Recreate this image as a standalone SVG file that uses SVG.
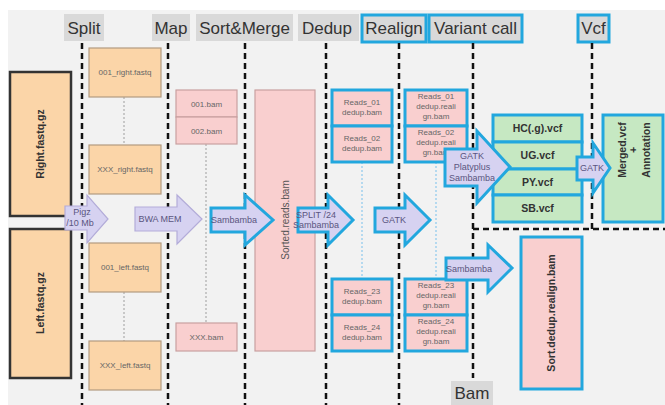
<svg xmlns="http://www.w3.org/2000/svg" width="665" height="405" viewBox="0 0 665 405">
<style>
text{font-family:"Liberation Sans",Arial,sans-serif;}
.hdr{fill:#d9d9d9;}
.hb{fill:#d9d9d9;stroke:#22a7de;stroke-width:3;}
.ht{font-size:17px;fill:#333;text-anchor:middle;}
.dash{stroke:#111;stroke-width:2.5;stroke-dasharray:6,4;fill:none;}
.big{fill:#fbd5a8;stroke:#333;stroke-width:2.5;}
.or{fill:#fbd5a8;stroke:#b39b80;stroke-width:1.2;}
.pk{fill:#f9cfcf;stroke:#c9a0a0;stroke-width:1.2;}
.pkb{fill:#f9cfcf;stroke:#22a7de;stroke-width:3;}
.gr{fill:#c6e8c2;stroke:#22a7de;stroke-width:3;}
.ar{fill:#d6d2f1;stroke:#b3acd9;stroke-width:1.2;}
.arb{fill:#d6d2f1;stroke:#22a7de;stroke-width:3;}
.st{font-size:8px;fill:#666;text-anchor:middle;}
.at{font-size:9px;fill:#5a5580;text-anchor:middle;}
.gt{font-size:10.5px;font-weight:bold;fill:#333;text-anchor:middle;}
.dot{stroke:#c8c8c8;stroke-width:2;stroke-dasharray:2,2;fill:none;}
.dotb{stroke:#b5d9ef;stroke-width:2;stroke-dasharray:2,2;fill:none;}
</style>
<rect x="0" y="0" width="665" height="405" fill="#fff"/>
<rect x="8" y="10" width="657" height="395" fill="#f2f2f2"/>

<g id="headers">
<rect class="hdr" x="64" y="14" width="40" height="27"/><text class="ht" x="84" y="34">Split</text>
<rect class="hdr" x="152" y="14" width="38" height="27"/><text class="ht" x="171" y="34">Map</text>
<rect class="hdr" x="196" y="14" width="97" height="27"/><text class="ht" x="244.5" y="34">Sort&amp;Merge</text>
<rect class="hdr" x="298" y="14" width="61" height="27"/><text class="ht" x="327" y="34">Dedup</text>
<rect class="hb" x="362" y="15" width="64" height="27"/><text class="ht" x="394" y="34">Realign</text>
<rect class="hb" x="429" y="15" width="93" height="27"/><text class="ht" x="475.5" y="34">Variant call</text>
<rect class="hb" x="578" y="15" width="31" height="27"/><text class="ht" x="593.5" y="34">Vcf</text>
<rect class="hdr" x="451" y="381" width="42" height="24"/><text class="ht" x="472" y="399">Bam</text>
</g>

<g id="connectors">
<line class="dash" x1="82" y1="43" x2="82" y2="405"/>
<line class="dash" x1="168" y1="43" x2="168" y2="405"/>
<line class="dash" x1="245" y1="43" x2="245" y2="405"/>
<line class="dash" x1="326" y1="43" x2="326" y2="405"/>
<line class="dash" x1="399" y1="43" x2="399" y2="405"/>
<line class="dash" x1="473" y1="43" x2="473" y2="378"/>
<line class="dash" x1="592" y1="43" x2="592" y2="229"/>
<line class="dash" x1="473" y1="229" x2="665" y2="229"/>
<line class="dot" x1="124" y1="97" x2="124" y2="145"/>
<line class="dot" x1="124" y1="292" x2="124" y2="341"/>
<line class="dot" x1="206" y1="144" x2="206" y2="323"/>
<line class="dotb" x1="362" y1="162" x2="362" y2="279"/>
<line class="dotb" x1="436" y1="162" x2="436" y2="279"/>
</g>

<g id="right-fastq"><rect class="big" x="10" y="72" width="61" height="144"/>
<text class="gt" transform="translate(44,144) rotate(-90)" font-size="11">Right.fastq.gz</text></g>
<g id="left-fastq"><rect class="big" x="10" y="229" width="61" height="149"/>
<text class="gt" transform="translate(44,303) rotate(-90)" font-size="11">Left.fastq.gz</text></g>

<g id="s001r"><rect class="or" x="89" y="48" width="72" height="49"/><text class="st" x="125" y="75">001_right.fastq</text></g>
<g id="sxxxr"><rect class="or" x="89" y="145" width="72" height="49"/><text class="st" x="125" y="172">XXX_right.fastq</text></g>
<g id="s001l"><rect class="or" x="89" y="243" width="72" height="49"/><text class="st" x="125" y="270">001_left.fastq</text></g>
<g id="sxxxl"><rect class="or" x="89" y="341" width="72" height="49"/><text class="st" x="125" y="368">XXX_left.fastq</text></g>

<g id="bam001"><rect class="pk" x="176" y="90" width="61" height="27"/><text class="st" x="206.5" y="107">001.bam</text></g>
<g id="bam002"><rect class="pk" x="176" y="117" width="61" height="27"/><text class="st" x="206.5" y="134">002.bam</text></g>
<g id="bamxxx"><rect class="pk" x="176" y="323" width="61" height="28"/><text class="st" x="206.5" y="340">XXX.bam</text></g>

<g id="sorted"><rect class="pk" x="255" y="90" width="60" height="261"/>
<text transform="translate(289,220) rotate(-90)" font-size="10" fill="#555" text-anchor="middle">Sorted.reads.bam</text></g>

<g id="d01"><rect class="pkb" x="332" y="90" width="60" height="36"/><text class="st" x="362" y="105">Reads_01</text><text class="st" x="362" y="115">dedup.bam</text></g>
<g id="d02"><rect class="pkb" x="332" y="126" width="60" height="36"/><text class="st" x="362" y="141">Reads_02</text><text class="st" x="362" y="151">dedup.bam</text></g>
<g id="d23"><rect class="pkb" x="332" y="279" width="60" height="36"/><text class="st" x="362" y="294">Reads_23</text><text class="st" x="362" y="304">dedup.bam</text></g>
<g id="d24"><rect class="pkb" x="332" y="315" width="60" height="36"/><text class="st" x="362" y="330">Reads_24</text><text class="st" x="362" y="340">dedup.bam</text></g>

<g id="r01"><rect class="pkb" x="405" y="90" width="62" height="36"/><text class="st" x="436" y="99">Reads_01</text><text class="st" x="436" y="109">dedup.reali</text><text class="st" x="436" y="119">gn.bam</text></g>
<g id="r02"><rect class="pkb" x="405" y="126" width="62" height="36"/><text class="st" x="436" y="135">Reads_02</text><text class="st" x="436" y="145">dedup.reali</text><text class="st" x="436" y="155">gn.bam</text></g>
<g id="r23"><rect class="pkb" x="405" y="279" width="62" height="36"/><text class="st" x="436" y="288">Reads_23</text><text class="st" x="436" y="298">dedup.reali</text><text class="st" x="436" y="308">gn.bam</text></g>
<g id="r24"><rect class="pkb" x="405" y="315" width="62" height="36"/><text class="st" x="436" y="324">Reads_24</text><text class="st" x="436" y="334">dedup.reali</text><text class="st" x="436" y="344">gn.bam</text></g>

<g id="hc"><rect class="gr" x="493" y="115" width="89" height="27"/><text class="gt" x="537.5" y="132">HC(.g).vcf</text></g>
<g id="ug"><rect class="gr" x="493" y="142" width="89" height="27"/><text class="gt" x="537.5" y="159">UG.vcf</text></g>
<g id="py"><rect class="gr" x="493" y="169" width="89" height="26"/><text class="gt" x="537.5" y="186">PY.vcf</text></g>
<g id="sb"><rect class="gr" x="493" y="195" width="89" height="27"/><text class="gt" x="537.5" y="212">SB.vcf</text></g>

<g id="merged"><rect class="gr" x="603" y="115" width="60" height="107"/>
<text class="gt" transform="translate(626,150) rotate(-90)">Merged.vcf</text>
<text class="gt" transform="translate(637,150) rotate(-90)">+</text>
<text class="gt" transform="translate(650,150) rotate(-90)">Annotation</text></g>

<g id="sortdedup"><rect class="pkb" x="521" y="237" width="61" height="152"/>
<text class="gt" transform="translate(555,313) rotate(-90)">Sort.dedup.realign.bam</text></g>

<g id="a-pigz"><polygon class="ar" points="65,206 87,206 87,195 108,219 87,243 87,230 65,230"/><text class="at" x="82" y="215">Pigz</text><text class="at" x="80" y="226">/10 Mb</text></g>
<g id="a-bwa"><polygon class="ar" points="135,207 177,207 177,195 202,219 177,244 177,231 135,231"/><text class="at" x="160" y="222">BWA MEM</text></g>
<g id="a-samb1"><polygon class="arb" points="211,208 245,208 245,195 273,220 245,245 245,232 211,232"/><text class="at" x="234" y="223">Sambamba</text></g>
<g id="a-split"><polygon class="arb" points="298,208 328,208 328,195 353,220 328,245 328,232 298,232"/><text class="at" x="316" y="218">SPLIT /24</text><text class="at" x="316" y="228" font-size="7.5">Sambamba</text></g>
<g id="a-gatk1"><polygon class="arb" points="375,208 405,208 405,195 430,220 405,245 405,232 375,232"/><text class="at" x="394" y="223">GATK</text></g>
<g id="a-vc"><polygon class="arb" points="445,149 477,149 477,131 510,167 477,203 477,186 445,186"/><text class="at" x="472" y="159">GATK</text><text class="at" x="472" y="170">Platyplus</text><text class="at" x="472" y="181">Sambamba</text></g>
<g id="a-gatk2"><polygon class="arb" points="577,157 593,157 593,143 610,168 593,193 593,180 577,180"/><text class="at" x="592" y="171" font-size="8.5">GATK</text></g>
<g id="a-samb2"><polygon class="arb" points="446,258 488,258 488,245 512,268 488,292 488,280 446,280"/><text class="at" x="469" y="272">Sambamba</text></g>
</svg>
